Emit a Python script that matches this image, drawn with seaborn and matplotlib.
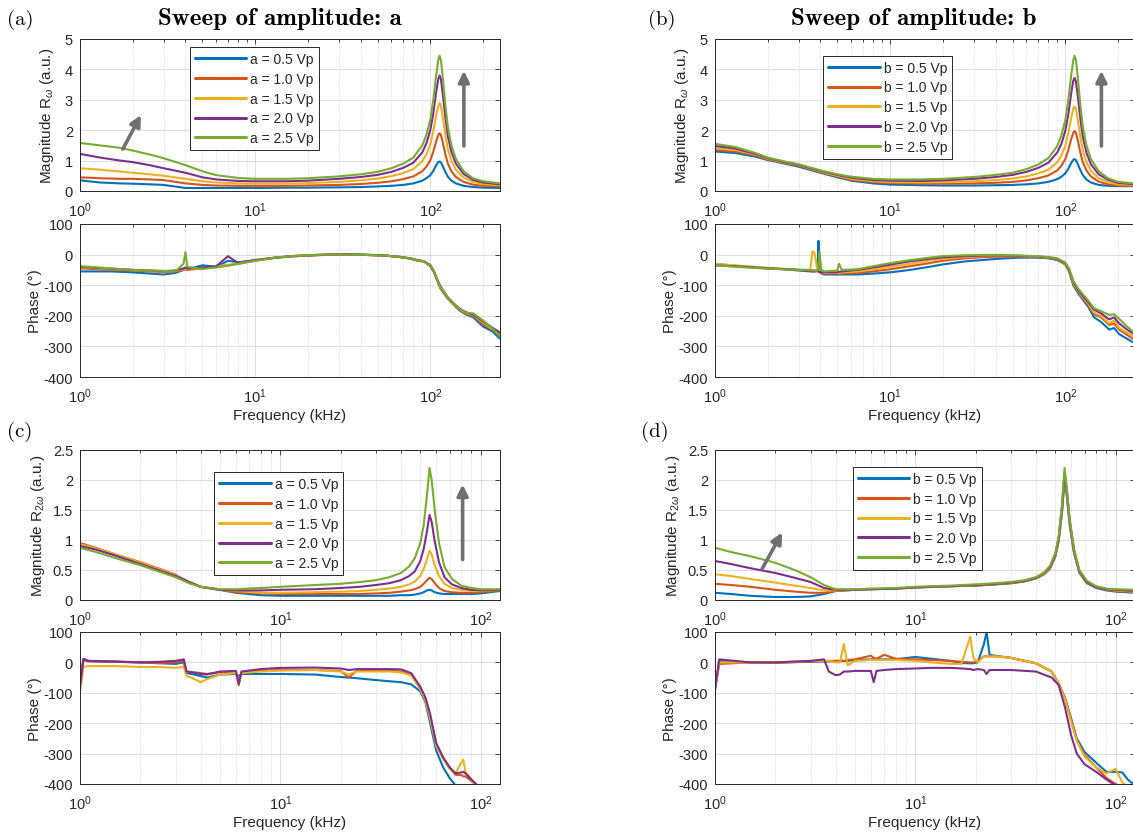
import matplotlib
matplotlib.use('Agg')
import matplotlib.pyplot as plt
import matplotlib.ticker as mticker
from matplotlib.lines import Line2D
import seaborn as sns
import pandas as pd

# MATLAB default line colours, one per drive amplitude
COLORS = ['#0072BD', '#D95319', '#EDB120', '#7E2F8E', '#77AC30']
LEVELS = ['0.5', '1.0', '1.5', '2.0', '2.5']

# ---------------- (a)/(b): first harmonic, frequency in kHz ----------------
f_mag_w = [1, 1.3, 1.7, 2, 2.5, 3, 4, 5, 6, 8, 10, 15, 20, 30, 40, 50, 60, 70, 80, 90,
           95, 100, 104, 108, 111, 113, 115, 118, 122, 126, 132, 140, 155, 175, 200, 250]

mag_a = [
    [0.35, 0.28, 0.25, 0.24, 0.22, 0.2, 0.1, 0.1, 0.1, 0.1, 0.1, 0.11, 0.11, 0.12, 0.13, 0.15, 0.17, 0.2, 0.25, 0.34,
     0.42, 0.52, 0.66, 0.84, 0.95, 0.97, 0.94, 0.81, 0.62, 0.47, 0.34, 0.25, 0.17, 0.13, 0.11, 0.1],
    [0.45, 0.42, 0.4, 0.4, 0.38, 0.36, 0.25, 0.2, 0.18, 0.17, 0.17, 0.17, 0.18, 0.2, 0.23, 0.27, 0.32, 0.39, 0.48, 0.65,
     0.8, 1.01, 1.29, 1.63, 1.84, 1.9, 1.84, 1.58, 1.2, 0.9, 0.65, 0.46, 0.3, 0.21, 0.17, 0.15],
    [0.75, 0.7, 0.64, 0.6, 0.55, 0.5, 0.4, 0.32, 0.28, 0.25, 0.24, 0.24, 0.26, 0.3, 0.35, 0.41, 0.49, 0.59, 0.72, 0.98,
     1.21, 1.53, 1.96, 2.48, 2.8, 2.9, 2.8, 2.4, 1.83, 1.38, 0.98, 0.7, 0.44, 0.3, 0.23, 0.19],
    [1.22, 1.1, 1.0, 0.95, 0.85, 0.75, 0.6, 0.45, 0.38, 0.33, 0.32, 0.32, 0.34, 0.4, 0.46, 0.53, 0.63, 0.76, 0.93, 1.27,
     1.57, 2.0, 2.55, 3.25, 3.68, 3.8, 3.68, 3.15, 2.4, 1.8, 1.28, 0.9, 0.56, 0.37, 0.28, 0.22],
    [1.58, 1.5, 1.42, 1.33, 1.2, 1.08, 0.85, 0.65, 0.52, 0.43, 0.4, 0.4, 0.42, 0.48, 0.55, 0.63, 0.75, 0.9, 1.1, 1.5,
     1.85, 2.35, 3.0, 3.8, 4.3, 4.45, 4.3, 3.7, 2.8, 2.1, 1.5, 1.05, 0.65, 0.42, 0.32, 0.25],
]

mag_b = [
    [1.3, 1.25, 1.13, 1.02, 0.9, 0.8, 0.6, 0.45, 0.34, 0.25, 0.21, 0.19, 0.18, 0.18, 0.19, 0.2, 0.22, 0.25, 0.3, 0.39,
     0.47, 0.58, 0.73, 0.92, 1.02, 1.05, 1.01, 0.88, 0.68, 0.52, 0.38, 0.28, 0.2, 0.17, 0.16, 0.16],
    [1.35, 1.3, 1.17, 1.04, 0.92, 0.83, 0.62, 0.48, 0.37, 0.29, 0.26, 0.24, 0.24, 0.25, 0.27, 0.3, 0.35, 0.42, 0.51, 0.68,
     0.83, 1.05, 1.34, 1.7, 1.91, 1.97, 1.91, 1.65, 1.25, 0.94, 0.68, 0.48, 0.31, 0.22, 0.18, 0.17],
    [1.4, 1.35, 1.2, 1.06, 0.94, 0.85, 0.64, 0.5, 0.4, 0.32, 0.29, 0.28, 0.29, 0.32, 0.36, 0.41, 0.48, 0.58, 0.7, 0.95,
     1.17, 1.48, 1.89, 2.4, 2.7, 2.78, 2.7, 2.32, 1.76, 1.33, 0.95, 0.67, 0.42, 0.29, 0.22, 0.2],
    [1.48, 1.4, 1.22, 1.08, 0.95, 0.86, 0.66, 0.53, 0.44, 0.36, 0.34, 0.33, 0.35, 0.4, 0.46, 0.53, 0.63, 0.76, 0.93, 1.27,
     1.55, 1.98, 2.52, 3.2, 3.62, 3.72, 3.6, 3.1, 2.35, 1.77, 1.26, 0.88, 0.55, 0.37, 0.27, 0.22],
    [1.55, 1.45, 1.25, 1.1, 0.97, 0.88, 0.68, 0.55, 0.47, 0.4, 0.38, 0.38, 0.4, 0.46, 0.53, 0.6, 0.72, 0.87, 1.08, 1.48,
     1.83, 2.33, 2.98, 3.8, 4.3, 4.45, 4.3, 3.7, 2.8, 2.1, 1.5, 1.05, 0.65, 0.42, 0.3, 0.25],
]

f_ph_a = [1, 1.5, 2, 2.5, 3, 3.5, 3.9, 4.0, 4.1, 5, 6, 7, 8, 10, 13, 16, 20, 26, 33, 42,
          55, 67, 76, 85, 92, 100, 105, 110, 114, 118, 125, 135, 145, 159, 176, 200, 225, 250]

ph_a = [
    [-55, -55, -58, -62, -65, -60, -50, -45, -48, -35, -40, -20, -25, -18, -10, -6, -3, 0, 2, 0,
     -3, -7, -12, -18, -22, -38, -58, -88, -110, -122, -142, -162, -180, -195, -205, -235, -250, -275],
    [-45, -50, -52, -55, -57, -55, -50, -48, -50, -45, -40, -35, -30, -20, -11, -6, -3, -1, 0, -1,
     -3, -8, -13, -20, -23, -36, -57, -87, -108, -120, -140, -162, -178, -193, -200, -228, -245, -262],
    [-42, -48, -50, -53, -55, -53, -48, -45, -48, -44, -38, -34, -28, -19, -10, -5, -2, 0, 1, -1,
     -3, -8, -12, -19, -22, -35, -56, -86, -106, -118, -140, -160, -176, -190, -198, -222, -242, -258],
    [-40, -46, -50, -52, -54, -52, -45, -42, -46, -42, -38, -5, -28, -18, -10, -5, -2, 0, 1, -1,
     -3, -8, -12, -19, -22, -34, -55, -84, -102, -115, -138, -158, -174, -188, -196, -218, -238, -255],
    [-38, -45, -50, -52, -53, -55, -30, 8, -40, -47, -42, -36, -30, -20, -10, -5, -2, 0, 0, -1,
     -3, -8, -12, -20, -22, -35, -55, -85, -105, -115, -140, -160, -175, -190, -192, -215, -240, -268],
]

f_ph_b = [1, 1.5, 2, 2.5, 3, 3.5, 3.6, 3.7, 3.85, 3.9, 3.95, 4.05, 4.2, 5, 5.1, 5.3, 6.5, 8, 10, 13,
          16.7, 20, 27, 35, 43, 55, 69, 80, 90, 100, 105, 111, 118, 127, 135, 146, 160, 178, 190, 203,
          225, 250]

ph_b = [
    [-30, -40, -45, -48, -52, -55, -55, -55, -50, 45, -55, -62, -65, -65, -65, -65, -65, -62, -58, -50,
     -40, -32, -22, -17, -13, -10, -10, -12, -18, -32, -55, -100, -125, -150, -170, -205, -220, -245, -240, -260,
     -275, -290],
    [-32, -40, -45, -48, -50, -53, -55, -55, -55, -55, -58, -60, -62, -62, -62, -62, -60, -55, -48, -38,
     -28, -20, -12, -8, -7, -6, -8, -10, -16, -30, -52, -95, -120, -145, -165, -195, -205, -230, -225, -245,
     -262, -280],
    [-30, -38, -43, -47, -50, -50, 10, 5, -50, -52, -55, -58, -60, -60, -60, -58, -55, -48, -40, -30,
     -20, -14, -8, -5, -5, -5, -7, -10, -15, -30, -50, -92, -118, -142, -160, -190, -200, -225, -215, -240,
     -255, -272],
    [-35, -40, -45, -47, -50, -52, -52, -53, -53, -55, -56, -58, -58, -58, -56, -55, -50, -42, -33, -22,
     -14, -9, -5, -3, -3, -4, -6, -9, -14, -28, -48, -88, -115, -138, -155, -180, -192, -212, -205, -225,
     -245, -262],
    [-35, -42, -46, -48, -50, -50, -52, -52, -52, -50, 10, -50, -55, -52, -30, -50, -48, -38, -28, -18,
     -10, -5, -2, -1, -1, -3, -5, -8, -12, -26, -45, -85, -110, -132, -150, -175, -185, -197, -195, -210,
     -235, -258],
]

# ---------------- (c)/(d): second harmonic ----------------
f_mag_2w = [1, 1.2, 1.5, 2, 2.5, 3, 3.5, 4, 5, 6, 8, 10, 15, 20, 25, 30, 35, 40, 44, 47,
            50, 52, 54, 55.6, 57, 59, 62, 66, 72, 80, 90, 100, 125]

mag_c = [
    [0.92, 0.85, 0.75, 0.62, 0.5, 0.41, 0.3, 0.22, 0.17, 0.12, 0.08, 0.07, 0.07, 0.07, 0.07, 0.07, 0.07, 0.08, 0.08, 0.09,
     0.11, 0.13, 0.16, 0.17, 0.16, 0.13, 0.11, 0.1, 0.1, 0.1, 0.1, 0.11, 0.15],
    [0.95, 0.87, 0.76, 0.63, 0.52, 0.42, 0.3, 0.22, 0.17, 0.13, 0.11, 0.1, 0.1, 0.1, 0.1, 0.11, 0.12, 0.14, 0.16, 0.18,
     0.22, 0.27, 0.33, 0.37, 0.35, 0.28, 0.2, 0.15, 0.13, 0.12, 0.12, 0.13, 0.16],
    [0.93, 0.86, 0.76, 0.62, 0.51, 0.41, 0.3, 0.22, 0.17, 0.15, 0.12, 0.12, 0.13, 0.14, 0.15, 0.17, 0.19, 0.22, 0.26, 0.31,
     0.4, 0.52, 0.68, 0.82, 0.76, 0.58, 0.4, 0.27, 0.2, 0.17, 0.15, 0.15, 0.17],
    [0.9, 0.84, 0.74, 0.6, 0.49, 0.4, 0.3, 0.22, 0.17, 0.16, 0.16, 0.17, 0.18, 0.2, 0.22, 0.25, 0.28, 0.33, 0.4, 0.48,
     0.65, 0.85, 1.15, 1.42, 1.3, 0.98, 0.63, 0.38, 0.26, 0.2, 0.17, 0.16, 0.17],
    [0.87, 0.8, 0.7, 0.58, 0.47, 0.38, 0.28, 0.22, 0.18, 0.18, 0.2, 0.22, 0.25, 0.27, 0.3, 0.33, 0.38, 0.45, 0.56, 0.7,
     0.95, 1.25, 1.75, 2.2, 2.0, 1.5, 0.95, 0.55, 0.35, 0.24, 0.2, 0.18, 0.18],
]

mag_d = [
    [0.12, 0.1, 0.07, 0.05, 0.05, 0.06, 0.1, 0.15, 0.17, 0.18, 0.19, 0.21, 0.23, 0.24, 0.26, 0.28, 0.31, 0.36, 0.43, 0.52,
     0.72, 0.98, 1.45, 2.0, 1.75, 1.25, 0.78, 0.45, 0.28, 0.2, 0.16, 0.14, 0.12],
    [0.27, 0.25, 0.22, 0.17, 0.14, 0.12, 0.12, 0.15, 0.17, 0.18, 0.19, 0.21, 0.23, 0.24, 0.26, 0.28, 0.31, 0.36, 0.43, 0.53,
     0.74, 1.0, 1.5, 2.05, 1.8, 1.28, 0.8, 0.46, 0.29, 0.21, 0.17, 0.15, 0.13],
    [0.43, 0.4, 0.35, 0.29, 0.24, 0.2, 0.16, 0.16, 0.17, 0.18, 0.19, 0.21, 0.23, 0.25, 0.27, 0.29, 0.32, 0.37, 0.44, 0.54,
     0.75, 1.02, 1.52, 2.1, 1.83, 1.3, 0.82, 0.47, 0.3, 0.22, 0.18, 0.16, 0.14],
    [0.65, 0.6, 0.53, 0.45, 0.37, 0.3, 0.2, 0.17, 0.17, 0.18, 0.19, 0.21, 0.23, 0.25, 0.27, 0.29, 0.32, 0.37, 0.45, 0.55,
     0.76, 1.04, 1.55, 2.12, 1.85, 1.32, 0.83, 0.48, 0.3, 0.22, 0.18, 0.17, 0.15],
    [0.87, 0.8, 0.73, 0.62, 0.5, 0.38, 0.25, 0.18, 0.18, 0.19, 0.2, 0.22, 0.24, 0.26, 0.28, 0.3, 0.33, 0.38, 0.46, 0.57,
     0.78, 1.07, 1.6, 2.2, 1.9, 1.35, 0.85, 0.5, 0.32, 0.23, 0.19, 0.18, 0.17],
]

# second-harmonic phase: only the first four amplitudes are visible
f_ph_c = [1, 1.04, 1.1, 1.5, 2, 2.5, 3, 3.3, 3.4, 3.6, 4, 4.3, 5, 6, 6.2, 6.4, 8, 10, 15, 20,
          22, 24, 30, 35, 40, 45, 50, 53, 56, 60, 65, 70, 75, 80, 82, 84, 90, 95]

ph_c = [
    [-80, 12, 5, 2, 0, -3, -5, 0, -35, -38, -45, -50, -40, -38, -45, -38, -38, -38, -40, -48,
     -50, -52, -58, -62, -65, -72, -95, -130, -200, -290, -345, -380, -405, -410, -410, -410, -410, -410],
    [-60, 8, 3, 2, 0, -2, 0, 5, -30, -32, -35, -38, -32, -30, -75, -32, -28, -25, -25, -28,
     -50, -28, -28, -28, -30, -40, -85, -120, -180, -270, -315, -345, -370, -370, -375, -375, -390, -405],
    [-100, -15, -12, -12, -15, -15, -18, -15, -45, -50, -65, -55, -40, -35, -60, -35, -30, -27, -25, -30,
     -40, -30, -30, -30, -33, -42, -88, -125, -185, -275, -318, -350, -365, -330, -320, -360, -385, -405],
    [-80, 10, 5, 3, 0, 2, 5, 10, -30, -32, -38, -40, -30, -28, -70, -30, -22, -18, -17, -20,
     -25, -22, -22, -22, -23, -35, -80, -115, -170, -265, -312, -345, -365, -362, -360, -365, -385, -400],
]

f_ph_d = [1, 1.05, 1.5, 2, 3, 3.5, 3.7, 4, 4.2, 4.4, 4.6, 5, 6, 6.2, 6.4, 7, 8, 10, 12, 15,
          17, 18.8, 19.5, 20.5, 22, 22.7, 23.5, 25, 30, 40, 48, 52, 56, 60, 64, 70, 80, 90, 100, 108,
          115, 125]

ph_d = [
    [-90, 5, 0, 0, 2, 3, 3, 5, 5, 5, 5, 8, 10, 10, 10, 10, 10, 18, 12, 5,
     -2, -3, -3, 0, 60, 100, 25, 22, 15, -3, -30, -70, -118, -185, -250, -295, -330, -360, -360, -362,
     -385, -405],
    [-85, -5, 0, -2, 3, 5, 5, 5, 5, 5, 8, 10, 22, 15, 12, 25, 12, 10, 8, 5,
     2, 0, 0, 5, 20, 20, 20, 20, 15, -3, -30, -70, -120, -190, -255, -305, -345, -380, -400, -410,
     -410, -410],
    [-90, 0, 0, 0, 5, 5, 5, 0, 0, 60, -10, 5, 8, 8, 8, 8, 8, 5, 0, -5,
     -5, 85, 15, 0, 20, 20, 20, 20, 15, -3, -30, -70, -122, -195, -258, -310, -345, -365, -350, -395,
     -410, -410],
    [-90, 10, 0, 0, 5, 10, -30, -42, -40, -30, -30, -28, -28, -65, -28, -25, -22, -20, -18, -18,
     -20, -22, -25, -22, -25, -38, -25, -25, -25, -30, -50, -75, -150, -240, -300, -335, -360, -385, -405, -410,
     -410, -410],
]

sns.set_theme(style='white')
plt.rcParams['font.family'] = ['Liberation Sans', 'DejaVu Sans']
plt.rcParams['mathtext.fontset'] = 'custom'
plt.rcParams['mathtext.rm'] = 'Liberation Sans'
plt.rcParams['mathtext.it'] = 'Liberation Sans:italic'
plt.rcParams['axes.unicode_minus'] = False

INK = '#262626'
PX_W, PX_H = 1133, 837


def rect(x0, y_top, x1, y_bot):
    return [x0 / PX_W, 1 - y_bot / PX_H, (x1 - x0) / PX_W, (y_bot - y_top) / PX_H]


def draw(ax, freqs, series, xmax, ylim, yticks, ylabel, label_x):
    rows = []
    for i, vals in enumerate(series):
        assert len(vals) == len(freqs), (ylabel, i, len(vals), len(freqs))
        for f, v in zip(freqs, vals):
            rows.append({'f': f, 'v': v, 's': i})
    df = pd.DataFrame(rows)
    sns.lineplot(data=df, x='f', y='v', hue='s', palette=COLORS[:len(series)],
                 estimator=None, linewidth=1.5, legend=False, ax=ax)
    ax.set_xscale('log')
    ax.set_xlim(1, xmax)
    ax.set_ylim(*ylim)
    ax.set_yticks(yticks)
    ax.yaxis.set_major_formatter(mticker.FuncFormatter(lambda v, p: '%g' % v))
    ax.xaxis.set_major_locator(mticker.LogLocator(base=10, numticks=10))
    ax.xaxis.set_minor_locator(mticker.LogLocator(base=10, subs=range(2, 10), numticks=20))
    ax.xaxis.set_minor_formatter(mticker.NullFormatter())
    ax.set_axisbelow(True)
    ax.grid(True, which='major', color='#dedede', linewidth=0.7)
    ax.grid(True, which='minor', axis='x', color='#cfcfcf', linewidth=0.6, linestyle=':')
    ax.tick_params(which='both', direction='in', top=True, right=True, colors=INK,
                   labelsize=10.5, labelcolor=INK, width=0.6)
    ax.tick_params(which='major', length=3.5)
    ax.tick_params(axis='x', which='major', pad=7)
    ax.tick_params(axis='y', which='major', pad=5)
    ax.tick_params(which='minor', length=2)
    for sp in ax.spines.values():
        sp.set_color(INK)
        sp.set_linewidth(0.7)
    ax.set_xlabel('')
    ax.set_ylabel(ylabel, fontsize=11, color=INK)
    ax.yaxis.set_label_coords(label_x, 0.5)


def add_legend(ax, letter, anchor):
    handles = [Line2D([], [], color=c, linewidth=2.2) for c in COLORS]
    labels = ['%s = %s Vp' % (letter, lv) for lv in LEVELS]
    leg = ax.legend(handles, labels, loc='upper left', bbox_to_anchor=anchor,
                    fontsize=10, handlelength=3.7, handletextpad=0.3, labelspacing=0.42,
                    borderpad=0.35, borderaxespad=0, fancybox=False, framealpha=1,
                    edgecolor=INK)
    leg.get_frame().set_linewidth(0.7)
    for t in leg.get_texts():
        t.set_color(INK)


def add_arrow(ax, tail, head):
    ax.annotate('', xy=head, xytext=tail, xycoords='axes fraction', textcoords='axes fraction',
                arrowprops=dict(arrowstyle='-|>', color='#707070', lw=2.6, mutation_scale=16,
                                shrinkA=0, shrinkB=0))


fig = plt.figure(figsize=(PX_W / 100, PX_H / 100), dpi=100)

LX0, LX1 = 80, 500
RX0, RX1 = 715, 1135

ax_a1 = fig.add_axes(rect(LX0, 40, LX1, 192))
ax_a2 = fig.add_axes(rect(LX0, 225, LX1, 378))
ax_b1 = fig.add_axes(rect(RX0, 40, RX1, 192))
ax_b2 = fig.add_axes(rect(RX0, 225, RX1, 378))
ax_c1 = fig.add_axes(rect(LX0, 451, LX1, 601))
ax_c2 = fig.add_axes(rect(LX0, 633, LX1, 785))
ax_d1 = fig.add_axes(rect(RX0, 451, RX1, 601))
ax_d2 = fig.add_axes(rect(RX0, 633, RX1, 785))

lab_w = r'Magnitude R$_{\omega}$ (a.u.)'
lab_2w = r'Magnitude R$_{2\omega}$ (a.u.)'
lab_ph = 'Phase (\u00b0)'
mag_w_ticks = [0, 1, 2, 3, 4, 5]
mag_2w_ticks = [0, 0.5, 1, 1.5, 2, 2.5]
ph_ticks = [-400, -300, -200, -100, 0, 100]

draw(ax_a1, f_mag_w, mag_a, 250, (0, 5), mag_w_ticks, lab_w, -0.058)
draw(ax_a2, f_ph_a, ph_a, 250, (-400, 100), ph_ticks, lab_ph, -0.09)
draw(ax_b1, f_mag_w, mag_b, 250, (0, 5), mag_w_ticks, lab_w, -0.058)
draw(ax_b2, f_ph_b, ph_b, 250, (-400, 100), ph_ticks, lab_ph, -0.09)
draw(ax_c1, f_mag_2w, mag_c, 125, (0, 2.5), mag_2w_ticks, lab_2w, -0.078)
draw(ax_c2, f_ph_c, ph_c, 125, (-400, 100), ph_ticks, lab_ph, -0.09)
draw(ax_d1, f_mag_2w, mag_d, 125, (0, 2.5), mag_2w_ticks, lab_2w, -0.078)
draw(ax_d2, f_ph_d, ph_d, 125, (-400, 100), ph_ticks, lab_ph, -0.09)

for ax in (ax_a2, ax_b2, ax_c2, ax_d2):
    ax.set_xlabel('Frequency (kHz)', fontsize=11, color=INK, labelpad=2)

add_legend(ax_a1, 'a', (0.262, 0.947))
add_legend(ax_b1, 'b', (0.258, 0.89))
add_legend(ax_c1, 'a', (0.32, 0.853))
add_legend(ax_d1, 'b', (0.328, 0.887))

add_arrow(ax_a1, (0.102, 0.276), (0.145, 0.5))
add_arrow(ax_a1, (0.914, 0.296), (0.914, 0.79))
add_arrow(ax_b1, (0.92, 0.296), (0.92, 0.79))
add_arrow(ax_c1, (0.911, 0.27), (0.911, 0.77))
add_arrow(ax_d1, (0.112, 0.207), (0.16, 0.45))

# panel letters and column titles
for txt, x, y in [('(a)', 20, 20), ('(b)', 662, 20), ('(c)', 20, 432), ('(d)', 655, 432)]:
    fig.text(x / PX_W, 1 - y / PX_H, txt, fontsize=15, family='cmr10', color='black',
             ha='center', va='center')
for txt, x in [('Sweep of amplitude: a', 280), ('Sweep of amplitude: b', 914)]:
    fig.text(x / PX_W, 1 - 19 / PX_H, txt, fontsize=18, family='cmb10', color='black',
             ha='center', va='center')

fig.savefig('out.png', dpi=100)
plt.close(fig)
